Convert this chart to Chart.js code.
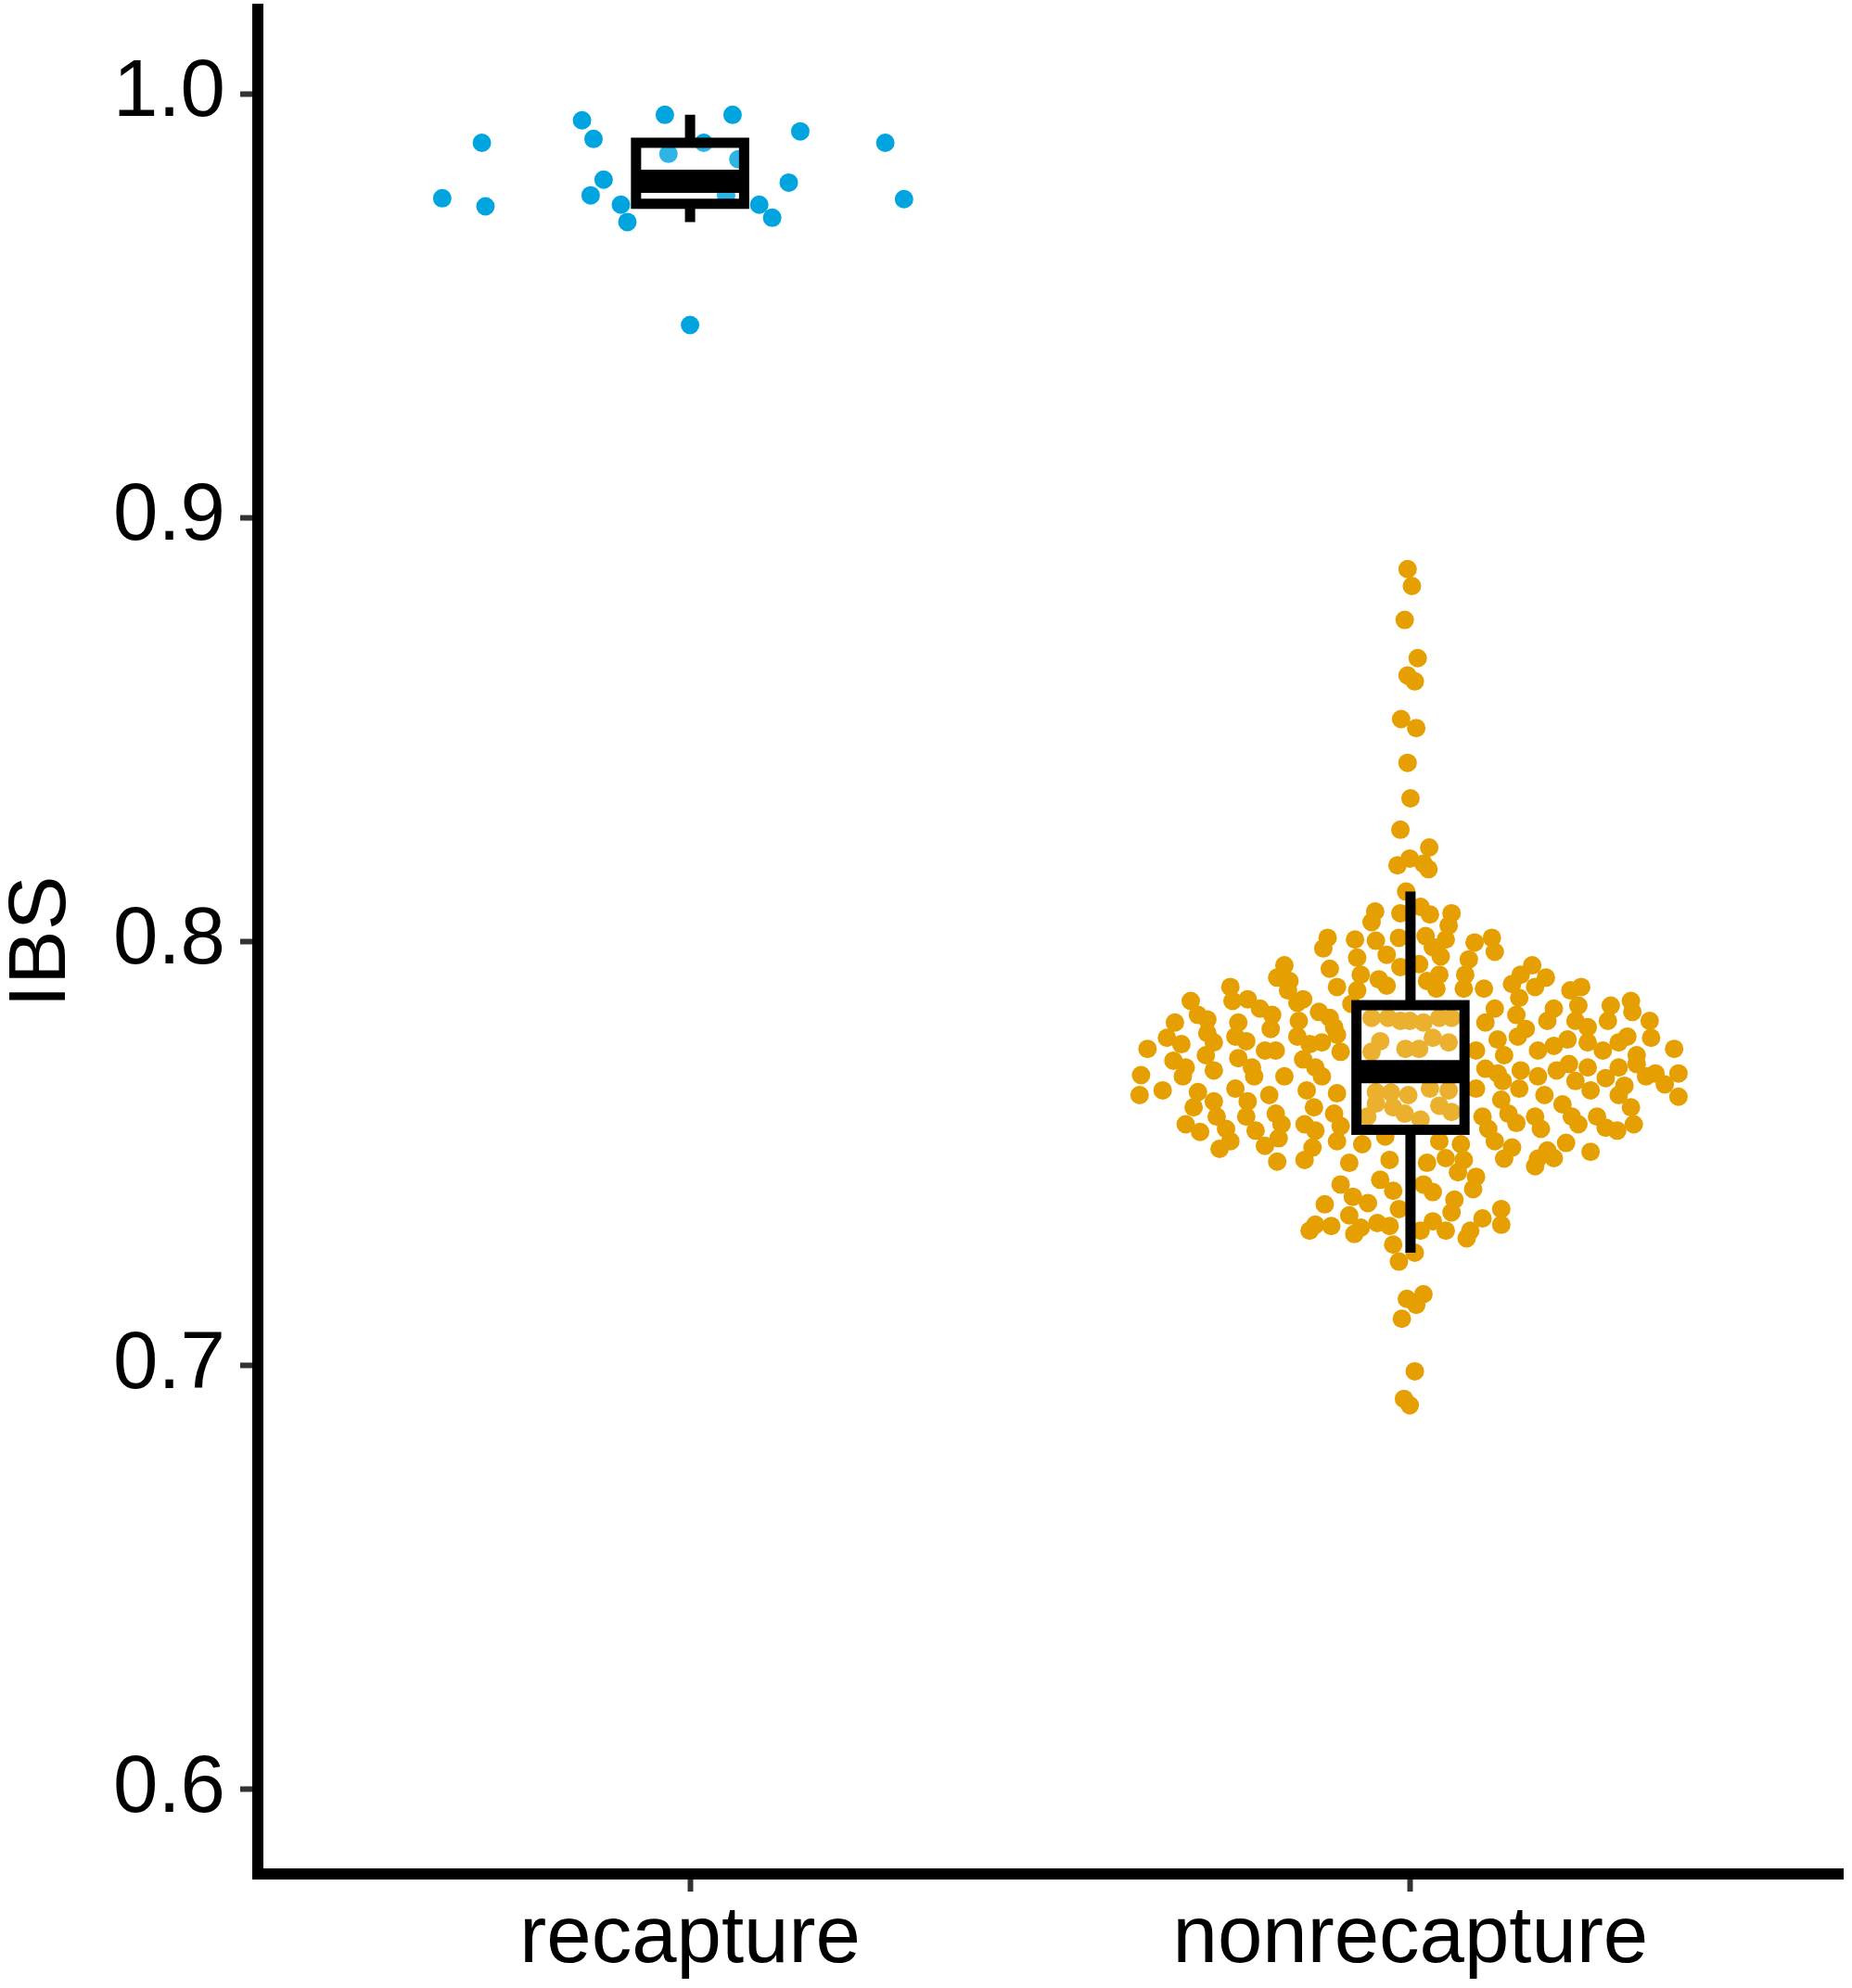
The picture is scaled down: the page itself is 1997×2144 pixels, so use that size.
<!DOCTYPE html>
<html>
<head>
<meta charset="utf-8">
<script src="https://cdn.jsdelivr.net/npm/chart.js@4/dist/chart.umd.min.js"></script>
<style>
  html, body { margin: 0; padding: 0; background: #fff; }
  #wrap { width: 1997px; height: 2144px; position: relative; }
</style>
</head>
<body>
<div id="wrap"><canvas id="ibsChart"></canvas></div>
<script>
// --- DATA ---
const categories = ['recapture', 'nonrecapture'];
const yTicks = [0.6, 0.7, 0.8, 0.9, 1.0];

// recapture: IBS value + horizontal swarm offset (in category units)
const recaptureIBS = [0.9754, 0.9885, 0.9735, 0.9938, 0.9894, 0.9798, 0.9761, 0.9739, 0.9698, 0.9951, 0.9859,
  0.9885, 0.9951, 0.9846, 0.9761, 0.9739, 0.9708, 0.9791, 0.9912, 0.9885, 0.9752, 0.9455];
const recaptureJitter = [-0.344, -0.289, -0.284, -0.150, -0.134, -0.120, -0.138, -0.096, -0.087, -0.035, -0.030,
  0.019, 0.059, 0.067, 0.050, 0.096, 0.114, 0.137, 0.153, 0.271, 0.297, 0.000];

// nonrecapture
const nonrecaptureIBS = [
  0.8879, 0.8839, 0.8759, 0.8669, 0.8628, 0.8614, 0.8525, 0.8504, 0.8422, 0.8338, 0.8264, 0.8222, 0.8180, 0.8196, 0.8184, 0.8171, 0.8118,
  0.7747, 0.7685, 0.7809, 0.7773, 0.7758, 0.7719, 0.7703, 0.7682, 0.7860, 0.7827, 0.7816, 0.7784, 0.7762, 0.7732, 0.7696,
  0.7893, 0.7860, 0.7864, 0.7809, 0.7776, 0.7765, 0.7725, 0.7703, 0.7842, 0.7827, 0.7794, 0.7743, 0.7743,
  0.7944, 0.7915, 0.7907, 0.7885, 0.7856, 0.7864, 0.7813, 0.7776, 0.7758, 0.7722, 0.7703,
  0.7834, 0.7820, 0.7798, 0.7780, 0.7762, 0.7740, 0.8009, 0.7984, 0.7936, 0.7893,
  0.8005, 0.7962, 0.7922, 0.7885, 0.7853, 0.8071, 0.8046, 0.8002, 0.7969, 0.7911, 0.7896,
  0.8067, 0.8009, 0.7940, 0.7820, 0.7820, 0.7813, 0.7765, 0.7740, 0.7747,
  0.8082, 0.8064, 0.8067, 0.8038, 0.8005, 0.8013, 0.7987, 0.7965, 0.7947, 0.7922, 0.7907, 0.7889,
  0.7998, 0.8009, 0.7976, 0.7958, 0.7922, 0.7889, 0.7889, 0.7944, 0.7922, 0.7900, 0.7915, 0.7893,
  0.7885, 0.7893, 0.7849, 0.7867, 0.7827, 0.7842, 0.7809, 0.7842, 0.7813, 0.7794, 0.7776, 0.7769, 0.7743,
  0.7813, 0.7798, 0.7849, 0.7813, 0.7860, 0.7834, 0.7813, 0.7743, 0.7754, 0.7769, 0.7762, 0.7743,
  0.7762, 0.7776, 0.7732, 0.7773, 0.7747, 0.7732, 0.7700, 0.7689, 0.7696, 0.7711, 0.7703, 0.7703,
  0.7711, 0.7689, 0.7689, 0.7813, 0.7809, 0.7820, 0.7820, 0.7773, 0.7762, 0.7747,
  0.7638, 0.7649, 0.7609, 0.7569, 0.7551, 0.7623, 0.7587, 0.7558, 0.7529, 0.7511, 0.7645, 0.7653,
  0.7623, 0.7587, 0.7554, 0.7682, 0.7638, 0.7594, 0.7569, 0.7536, 0.7518, 0.7481, 0.7682, 0.7649,
  0.7609, 0.7569, 0.7554, 0.7514, 0.7485, 0.7682, 0.7642, 0.7594, 0.7565, 0.7529, 0.7522, 0.7478,
  0.7427, 0.7398, 0.7380, 0.7332, 0.7329, 0.7354, 0.7310, 0.7383, 0.7438, 0.7485, 0.7412, 0.7336,
  0.7285, 0.7245, 0.7540, 0.7645, 0.7609, 0.7638,
  0.7653, 0.7649, 0.7613, 0.7598, 0.7580, 0.7653, 0.7671, 0.7653, 0.7682, 0.7696, 0.7671,
  0.7649, 0.7678, 0.7660, 0.7682, 0.7663, 0.7634, 0.7638, 0.7616, 0.7587, 0.7569, 0.7587, 0.7558,
  0.7529, 0.7488, 0.7514, 0.7627, 0.7594, 0.7572, 0.7587, 0.7558, 0.7507, 0.7489, 0.7470, 0.7488,
  0.7525, 0.7504, 0.7587, 0.7561, 0.7554, 0.7569, 0.7609, 0.7638, 0.7489, 0.7522, 0.7485, 0.7456,
  0.7445, 0.7416, 0.7478, 0.7409, 0.7391, 0.7361, 0.7340, 0.7318, 0.7318, 0.7266, 0.7369, 0.7332,
  0.7347, 0.7318, 0.7300, 0.7529, 0.7427,
  0.7318, 0.7325, 0.7329, 0.7157, 0.7168, 0.7143, 0.7110, 0.6986, 0.6921, 0.6906, 0.7369,
  0.7644, 0.7618, 0.7594, 0.7587
];
const nonrecaptureJitter = [
  -0.004, 0.002, -0.008, 0.010, -0.004, 0.006, -0.013, 0.008, -0.004, 0.000, -0.014, 0.026, -0.018, -0.001, 0.018, 0.025, -0.006,
  -0.365, -0.374, -0.327, -0.338, -0.318, -0.329, -0.312, -0.316, -0.305, -0.295, -0.282, -0.282, -0.273, -0.284, -0.273,
  -0.250, -0.247, -0.226, -0.239, -0.243, -0.228, -0.239, -0.220, -0.209, -0.192, -0.194, -0.187, -0.202,
  -0.175, -0.185, -0.168, -0.170, -0.157, -0.149, -0.155, -0.157, -0.140, -0.149, -0.132,
  -0.127, -0.112, -0.106, -0.102, -0.123, -0.097, -0.115, -0.121, -0.112, -0.102,
  -0.077, -0.074, -0.069, -0.074, -0.082, -0.049, -0.054, -0.048, -0.033, -0.044, -0.033,
  -0.014, -0.016, -0.014, -0.054, -0.031, -0.014, -0.042, -0.054, -0.007,
  0.014, 0.027, 0.057, 0.053, 0.049, 0.021, 0.031, 0.042, 0.012, 0.040, 0.023, 0.036,
  0.089, 0.113, 0.117, 0.081, 0.076, 0.074, 0.102, 0.169, 0.153, 0.141, 0.188, 0.173,
  0.222, 0.237, 0.233, 0.151, 0.147, 0.117, 0.104, 0.199, 0.190, 0.160, 0.149, 0.121, 0.091,
  0.229, 0.246, 0.278, 0.274, 0.306, 0.308, 0.332, 0.177, 0.199, 0.218, 0.246, 0.267,
  0.289, 0.301, 0.314, 0.334, 0.366, 0.130, 0.104, 0.121, 0.203, 0.220, 0.246, 0.289,
  0.314, 0.340, 0.372, -0.001, 0.018, 0.040, 0.057, 0.031, 0.053, 0.012,
  -0.376, -0.344, -0.301, -0.312, -0.292, -0.273, -0.269, -0.256, -0.250, -0.265, -0.295, -0.243,
  -0.226, -0.228, -0.215, -0.217, -0.196, -0.187, -0.179, -0.183, -0.202, -0.185, -0.175, -0.144,
  -0.134, -0.147, -0.132, -0.136, -0.147, -0.123, -0.102, -0.106, -0.097, -0.102, -0.067, -0.085,
  -0.097, -0.080, -0.119, -0.132, -0.110, -0.085, -0.078, -0.059, -0.042, -0.029, -0.024, -0.046,
  -0.024, -0.016, -0.035, -0.048, -0.024, -0.003,
  0.027, 0.053, 0.040, 0.057, 0.014, 0.091, 0.128, 0.151, 0.177, 0.153, 0.229,
  0.250, 0.271, 0.297, 0.327, 0.353, 0.372, 0.186, 0.211, 0.224, 0.233, 0.100, 0.108,
  0.117, 0.130, 0.141, 0.126, 0.136, 0.147, 0.173, 0.181, 0.190, 0.199, 0.173, 0.177,
  0.216, 0.250, 0.259, 0.271, 0.287, 0.310, 0.306, 0.289, 0.049, 0.070, 0.074, 0.066,
  0.091, 0.087, 0.023, 0.031, 0.061, 0.057, 0.031, 0.049, 0.014, 0.006, 0.126, 0.126,
  0.100, 0.083, 0.078, 0.040, 0.018,
  -0.140, -0.069, -0.029, -0.005, 0.018, 0.008, -0.012, 0.006, -0.009, -0.001, -0.016,
  -0.027, -0.048, -0.008, -0.060
];

// boxplot summaries per category
const whiskerLow = [0.9698, 0.7266];
const boxLower = [0.9741, 0.7556];
const boxMedian = [0.9794, 0.7693];
const boxUpper = [0.9885, 0.7850];
const whiskerHigh = [0.9951, 0.8118];

const pointColors = ['#00A5E0', '#E69F00'];
const FONT = '"Liberation Sans", Arial, Helvetica, sans-serif';

function toPoints(values, jitter, catIndex) {
    return values.map((v, i) => ({ x: catIndex + 1 + jitter[i], y: v }));
}

// boxplot digambar di atas titik (seperti geom_boxplot setelah beeswarm)
const boxPlugin = {
    id: 'boxOverlay',
    afterDatasetsDraw(chart) {
        const { ctx, scales: { x, y } } = chart;
        const halfW = 0.075;
        ctx.save();
        categories.forEach((cat, i) => {
            const cx = x.getPixelForValue(i + 1);
            const l = x.getPixelForValue(i + 1 - halfW);
            const r = x.getPixelForValue(i + 1 + halfW);
            const yLo = y.getPixelForValue(boxLower[i]);
            const yHi = y.getPixelForValue(boxUpper[i]);
            const yMed = y.getPixelForValue(boxMedian[i]);

            ctx.strokeStyle = '#000';
            ctx.lineCap = 'butt';
            // whiskers
            ctx.lineWidth = 11;
            ctx.beginPath();
            ctx.moveTo(cx, y.getPixelForValue(whiskerHigh[i]));
            ctx.lineTo(cx, yHi);
            ctx.moveTo(cx, yLo);
            ctx.lineTo(cx, y.getPixelForValue(whiskerLow[i]));
            ctx.stroke();

            // box body
            ctx.fillStyle = 'rgba(255,255,255,0.18)';
            ctx.fillRect(l, yHi, r - l, yLo - yHi);
            ctx.lineJoin = 'miter';
            ctx.strokeRect(l, yHi, r - l, yLo - yHi);

            // median
            ctx.lineWidth = 25;
            ctx.beginPath();
            ctx.moveTo(l, yMed);
            ctx.lineTo(r, yMed);
            ctx.stroke();
        });
        ctx.restore();
    }
};

function renderChart() {
    const ctx = document.getElementById('ibsChart').getContext('2d');
    new Chart(ctx, {
        type: 'scatter',
        data: {
            datasets: [
                {
                    data: toPoints(recaptureIBS, recaptureJitter, 0),
                    backgroundColor: pointColors[0],
                    pointRadius: 10,
                    pointBorderWidth: 0
                },
                {
                    data: toPoints(nonrecaptureIBS, nonrecaptureJitter, 1),
                    backgroundColor: pointColors[1],
                    pointRadius: 10,
                    pointBorderWidth: 0
                }
            ]
        },
        options: {
            responsive: true,
            maintainAspectRatio: false,
            animation: false,
            layout: { padding: { top: 5, right: 3, left: 0, bottom: 0 } },
            plugins: { legend: { display: false }, tooltip: { enabled: false } },
            scales: {
                x: {
                    type: 'linear',
                    min: 0.4,
                    max: 2.6,
                    afterBuildTicks: scale => { scale.ticks = categories.map((c, i) => ({ value: i + 1 })); },
                    afterFit: scale => {
                        scale.height = 123;
                        scale.paddingLeft = 0;
                        scale.paddingRight = 0;
                    },
                    ticks: {
                        autoSkip: false,
                        maxRotation: 0,
                        padding: 0,
                        color: '#000',
                        font: { family: FONT, size: 87 },
                        callback: v => categories[v - 1]
                    },
                    grid: { display: true, drawOnChartArea: false, drawTicks: true, tickLength: 19, tickWidth: 6, tickColor: '#333' },
                    border: { display: true, width: 12, color: '#000' }
                },
                y: {
                    min: 0.58,
                    max: 1.02,
                    afterBuildTicks: scale => { scale.ticks = yTicks.map(v => ({ value: v })); },
                    afterFit: scale => {
                        scale.width = 278;
                        scale.paddingTop = 0;
                        scale.paddingBottom = 0;
                    },
                    ticks: {
                        padding: 16,
                        color: '#000',
                        font: { family: FONT, size: 87 },
                        callback: v => v.toFixed(1)
                    },
                    grid: { display: true, drawOnChartArea: false, drawTicks: true, tickLength: 19, tickWidth: 6, tickColor: '#333' },
                    border: { display: true, width: 12, color: '#000' },
                    title: { display: true, text: 'IBS', color: '#000', font: { family: FONT, size: 88, lineHeight: 1.05 }, padding: 0 }
                }
            }
        },
        plugins: [boxPlugin]
    });
}

renderChart();
</script>
</body>
</html>
